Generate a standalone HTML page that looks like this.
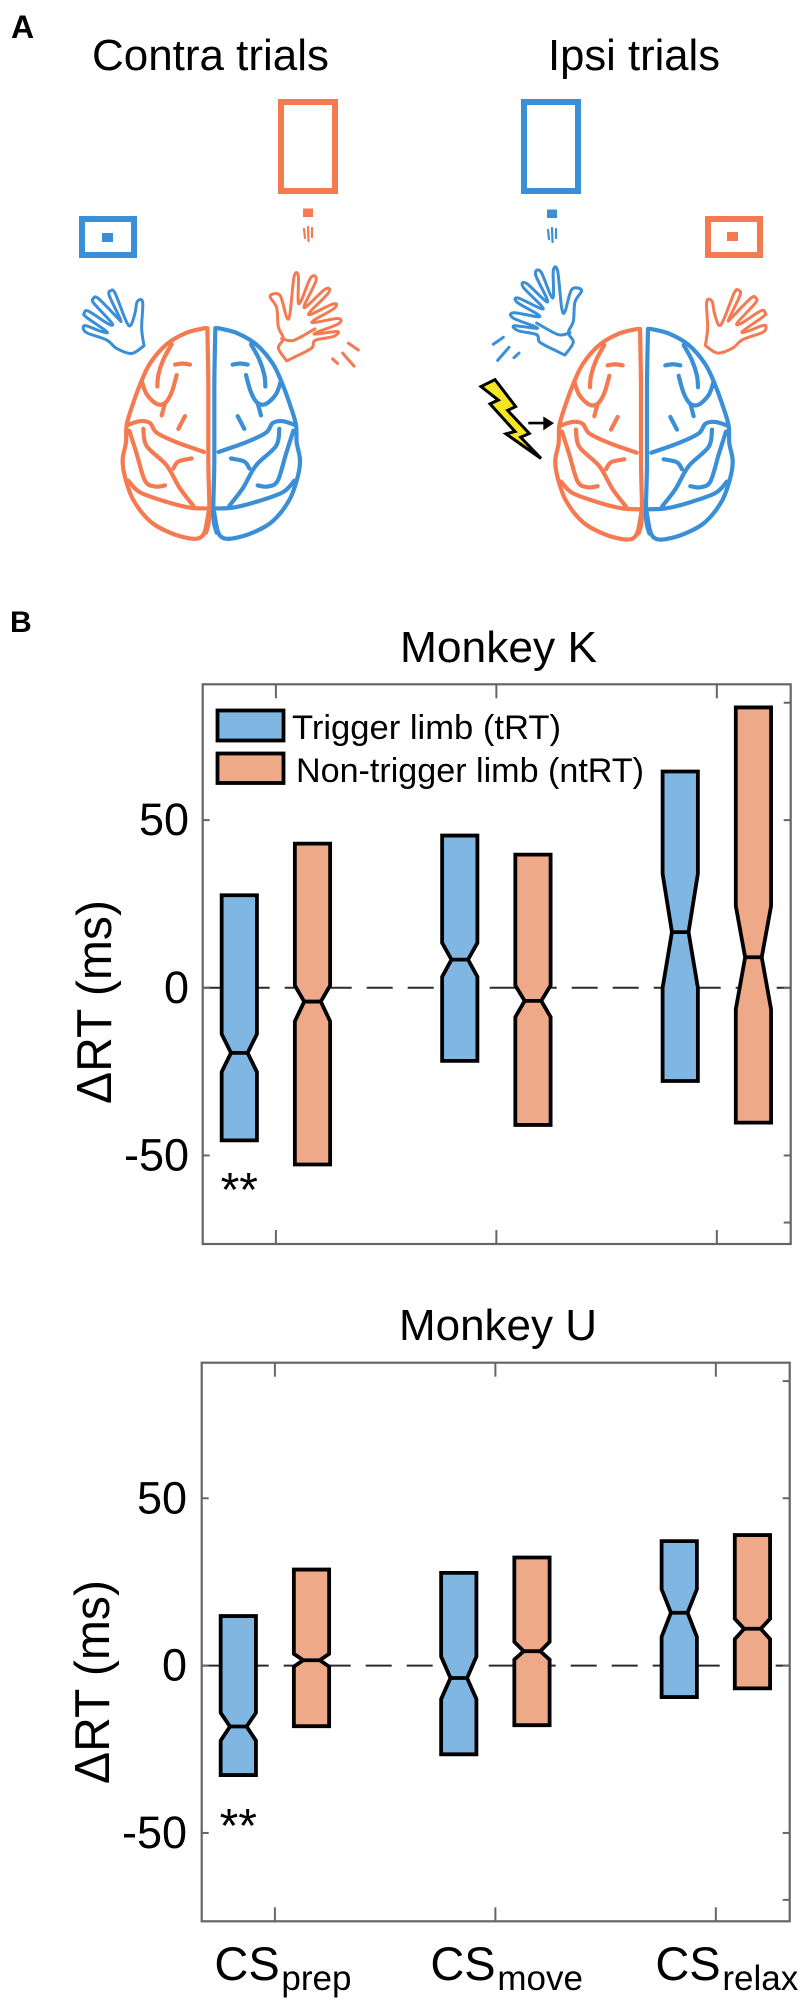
<!DOCTYPE html>
<html lang="en">
<head>
<meta charset="utf-8">
<title>Contra and ipsi trials; reaction time change by monkey</title>
<style>
  html, body { margin: 0; padding: 0; background: #fff; }
  svg { display: block; }
  text { font-family: "Liberation Sans", Arial, sans-serif; fill: #000; }
  .ink { fill: none; stroke-linejoin: round; stroke-linecap: round; vector-effect: non-scaling-stroke; }
</style>
</head>
<body>
<svg id="figure" xmlns="http://www.w3.org/2000/svg" width="800" height="2001" viewBox="0 0 800 2001">
  <defs>
    <g id="hemisphere">
      <path class="ink" d="M615 853 560 865 500 895 450 945 420 1000 395 1060 380 1105 378 1150 368 1195 375 1240 400 1300 450 1355 510 1385 570 1400 600 1398 615 1380 626 1330"/>
      <path class="ink" d="M622 853 625 1000 625 1200 628 1340 618 1385"/>
      <path class="ink" d="M515 895 490 935 475 975 472 1005"/>
      <path class="ink" d="M525 948 548 945 570 948"/>
      <path class="ink" d="M425 990 440 1025 470 1050 495 1048 515 1020 530 975"/>
      <path class="ink" d="M495 1048 485 1080"/>
      <path class="ink" d="M555 1082 535 1115"/>
      <path class="ink" d="M382 1105 420 1095 450 1100 470 1125 530 1150 612 1175"/>
      <path class="ink" d="M430 1115 440 1160 500 1210 540 1270 580 1315"/>
      <path class="ink" d="M388 1120 410 1180 435 1250 465 1265 495 1262"/>
      <path class="ink" d="M520 1218 535 1200 575 1192"/>
      <path class="ink" d="M385 1250 420 1280 500 1305 570 1320 625 1322"/>
    </g>
    <g id="brain">
      <use href="#hemisphere" stroke="#f47a52" stroke-width="4.2"/>
      <use href="#hemisphere" transform="translate(1268,0) scale(-1,1)" stroke="#3a8fd6" stroke-width="4.2"/>
    </g>
    <path id="hand-still" class="ink" d="M432 905 425 860 428 792 412 790 405 820 392 852 378 840 345 768 332 762 328 775 362 838 350 830 295 782 280 782 282 795 335 845 325 848 265 815 253 820 258 830 320 868 305 868 258 853 250 860 262 872 320 890 350 912 395 925 432 905"/>
    <g id="hand-moving">
      <path class="ink" d="M860 938 835 905 850 880 835 850 830 800 810 770 840 768 860 825 870 815 882 720 895 718 897 790 932 722 948 730 912 800 975 752 985 762 925 818 1000 790 1002 802 935 838 1013 828 1015 842 942 868 1012 862 1000 875 945 885 935 905 880 930 860 938"/>
      <path class="ink" d="M845 880 880 885 945 855"/>
      <path class="ink" d="M1045 892 1075 910"/>
      <path class="ink" d="M1028 918 1062 952"/>
      <path class="ink" d="M998 933 1013 945"/>
    </g>
    <g id="jitter-lines">
      <rect x="303" y="208.5" width="10" height="8.5" stroke="none"/>
      <path d="M304 229 305 238M308 227 308.5 241M312 228 312 237" fill="none" stroke-width="2.2" stroke-linecap="round"/>
    </g>
  </defs>

  <g id="panel-a">
    <text x="11" y="38" font-size="32" font-weight="bold">A</text>
    <text x="92" y="70" font-size="44" textLength="237" lengthAdjust="spacingAndGlyphs">Contra trials</text>
    <text x="548" y="70" font-size="44" textLength="172" lengthAdjust="spacingAndGlyphs">Ipsi trials</text>

    <rect x="281" y="102" width="54" height="89" fill="none" stroke="#f47a52" stroke-width="6"/>
    <rect x="82" y="219" width="52" height="36" fill="none" stroke="#3a8fd6" stroke-width="6"/>
    <rect x="102" y="233" width="11" height="9" fill="#3a8fd6"/>
    <use href="#jitter-lines" fill="#f47a52" stroke="#f47a52"/>

    <rect x="524" y="102" width="54" height="89" fill="none" stroke="#3a8fd6" stroke-width="6"/>
    <rect x="708" y="219" width="52" height="36" fill="none" stroke="#f47a52" stroke-width="6"/>
    <rect x="727" y="232" width="11" height="9" fill="#f47a52"/>
    <use href="#jitter-lines" transform="translate(244,1)" fill="#3a8fd6" stroke="#3a8fd6"/>

    <g transform="scale(0.33333,0.38462)">
      <use href="#brain"/>
      <use href="#brain" transform="translate(1298,2)"/>
      <use href="#hand-still" transform="translate(0,-6)" stroke="#3a8fd6" stroke-width="3"/>
      <use href="#hand-moving" stroke="#f47a52" stroke-width="3"/>
      <use href="#hand-moving" transform="translate(2555,-15) scale(-1,1)" stroke="#3a8fd6" stroke-width="3"/>
      <use href="#hand-still" transform="translate(2548,-7) scale(-1,1)" stroke="#f47a52" stroke-width="3"/>
      <polygon points="1443,1005 1485,987 1547,1057 1523,1067 1588,1127 1562,1137 1623,1192 1518,1128 1545,1122 1470,1050 1495,1040" fill="#f5e625" stroke="#000" stroke-width="3" vector-effect="non-scaling-stroke" stroke-linejoin="miter"/>
      <path d="M1585 1100H1635" stroke="#000" stroke-width="2.6" vector-effect="non-scaling-stroke" fill="none"/>
      <polygon points="1630,1083 1662,1100 1630,1119" fill="#000"/>
    </g>
  </g>

  <text x="10" y="632" font-size="30" font-weight="bold">B</text>

  <g id="chart-k">
    <text x="400" y="662" font-size="44" textLength="197" lengthAdjust="spacingAndGlyphs">Monkey K</text>
  </g>
  <g id="chart-u">
    <text x="399" y="1340" font-size="44" textLength="198" lengthAdjust="spacingAndGlyphs">Monkey U</text>
  </g>

  <g id="legend">
    <rect x="217.5" y="710.5" width="66" height="30" fill="#7fb7e2" stroke="#000" stroke-width="3.8"/>
    <text x="292" y="739" font-size="34" textLength="269" lengthAdjust="spacingAndGlyphs">Trigger limb (tRT)</text>
    <rect x="217.5" y="753.5" width="66" height="29.5" fill="#eda988" stroke="#000" stroke-width="3.8"/>
    <text x="296" y="782" font-size="34" textLength="348" lengthAdjust="spacingAndGlyphs">Non-trigger limb (ntRT)</text>
  </g>
</svg>

<script>
// Shared axis data
const categories = ['prep', 'move', 'relax'];
const yMajorTicks = [50, 0, -50];
const yMajorLabels = ['50', '0', '-50'];
const yMinorRightTicks = [85, -70];
const yDomain = [-76.4, 90.5];
const xDomain = [0.668, 3.335];

// Monkey K, trigger limb (tRT)
const kTriggerTop = [27.6, 45.4, 64.5];
const kTriggerNotchHigh = [-13.8, 13.4, 34];
const kTriggerMedian = [-19.4, 8.4, 16.6];
const kTriggerNotchLow = [-25.1, 3.3, 0];
const kTriggerBottom = [-45.5, -21.8, -27.8];
// Monkey K, non-trigger limb (ntRT)
const kOtherTop = [43, 39.7, 83.6];
const kOtherNotchHigh = [0.7, 0.7, 24.4];
const kOtherMedian = [-4.1, -3.9, 9.1];
const kOtherNotchLow = [-10, -8.7, -6.4];
const kOtherBottom = [-52.7, -40.9, -40.2];

// Monkey U, trigger limb (tRT)
const uTriggerTop = [14.8, 27.7, 37.2];
const uTriggerNotchHigh = [-14.1, 2.7, 22.8];
const uTriggerMedian = [-18.2, -3.7, 15.8];
const uTriggerNotchLow = [-22.4, -10, 8.6];
const uTriggerBottom = [-32.7, -26.5, -9.4];
// Monkey U, non-trigger limb (ntRT)
const uOtherTop = [28.7, 32.3, 39];
const uOtherNotchHigh = [3.5, 7.1, 14];
const uOtherMedian = [1.6, 4.3, 11];
const uOtherNotchLow = [-0.3, 1.8, 7.9];
const uOtherBottom = [-18.1, -17.8, -6.8];

const NS = 'http://www.w3.org/2000/svg';
const BLUE = '#7fb7e2';
const ORANGE = '#eda988';
const AXIS = '#666666';
const GROUP_OFFSET = 0.166;
const BOX_HALF = 0.08;
const NOTCH_RATIO = 0.47;

// Round the hand-traced illustration outlines into smooth curves
document.querySelectorAll('defs path.ink').forEach(function (path) {
  const nums = path.getAttribute('d').replace('M', '').trim().split(/\s+/).map(Number);
  const pts = [];
  for (let i = 0; i + 1 < nums.length; i += 2) pts.push([nums[i], nums[i + 1]]);
  if (pts.length < 3) return;
  let d = 'M' + pts[0][0] + ' ' + pts[0][1];
  for (let i = 0; i < pts.length - 1; i++) {
    const p0 = pts[Math.max(i - 1, 0)];
    const p1 = pts[i];
    const p2 = pts[i + 1];
    const p3 = pts[Math.min(i + 2, pts.length - 1)];
    d += 'C' + (p1[0] + (p2[0] - p0[0]) / 6) + ' ' + (p1[1] + (p2[1] - p0[1]) / 6) + ' ' +
      (p2[0] - (p3[0] - p1[0]) / 6) + ' ' + (p2[1] - (p3[1] - p1[1]) / 6) + ' ' + p2[0] + ' ' + p2[1];
  }
  path.setAttribute('d', d);
});

function makeScales(left, right, top, bottom) {
  return {
    x: function (v) { return left + (v - xDomain[0]) / (xDomain[1] - xDomain[0]) * (right - left); },
    y: function (v) { return bottom - (v - yDomain[0]) / (yDomain[1] - yDomain[0]) * (bottom - top); }
  };
}

function addLine(parent, x1, y1, x2, y2, color, width) {
  const el = document.createElementNS(NS, 'line');
  el.setAttribute('x1', x1);
  el.setAttribute('y1', y1);
  el.setAttribute('x2', x2);
  el.setAttribute('y2', y2);
  el.setAttribute('stroke', color);
  el.setAttribute('stroke-width', width);
  parent.appendChild(el);
  return el;
}

function addText(parent, x, y, size, content, anchor) {
  const el = document.createElementNS(NS, 'text');
  el.setAttribute('x', x);
  el.setAttribute('y', y);
  el.setAttribute('font-size', size);
  if (anchor) el.setAttribute('text-anchor', anchor);
  el.textContent = content;
  parent.appendChild(el);
  return el;
}

function drawBox(parent, sc, center, top, high, med, low, bottom, fill, name) {
  const xl = sc.x(center - BOX_HALF);
  const xr = sc.x(center + BOX_HALF);
  const nl = sc.x(center - BOX_HALF * NOTCH_RATIO);
  const nr = sc.x(center + BOX_HALF * NOTCH_RATIO);
  const g = document.createElementNS(NS, 'g');
  
  
  const body = document.createElementNS(NS, 'path');
  body.setAttribute('d', 'M' + xl + ' ' + sc.y(top) + 'L' + xr + ' ' + sc.y(top) +
    'L' + xr + ' ' + sc.y(high) + 'L' + nr + ' ' + sc.y(med) + 'L' + xr + ' ' + sc.y(low) +
    'L' + xr + ' ' + sc.y(bottom) + 'L' + xl + ' ' + sc.y(bottom) + 'L' + xl + ' ' + sc.y(low) +
    'L' + nl + ' ' + sc.y(med) + 'L' + xl + ' ' + sc.y(high) + 'Z');
  body.setAttribute('fill', fill);
  body.setAttribute('stroke', '#000');
  body.setAttribute('stroke-width', '3.8');
  body.setAttribute('stroke-linejoin', 'miter');
  
  
  g.appendChild(body);
  const median = addLine(g, nl, sc.y(med), nr, sc.y(med), '#000', 3.8);
  
  
  parent.appendChild(g);
}

function drawChart(parent, prefix, left, right, top, bottom, labelBaseX, labelCenterY, labelLen, labelRightX, trig, other) {
  const sc = makeScales(left, right, top, bottom);

  // Zero reference line sits beneath the boxes
  const zero = addLine(parent, left, sc.y(0), right, sc.y(0), '#2b2b2b', 2);
  zero.setAttribute('stroke-dasharray', '26 15');
  
  

  categories.forEach(function (cat, i) {
    const c = i + 1;
    drawBox(parent, sc, c - GROUP_OFFSET, trig[0][i], trig[1][i], trig[2][i], trig[3][i], trig[4][i], BLUE, prefix + '-trigger-box-' + cat);
    drawBox(parent, sc, c + GROUP_OFFSET, other[0][i], other[1][i], other[2][i], other[3][i], other[4][i], ORANGE, prefix + '-non-trigger-box-' + cat);

    const tickTop = addLine(parent, sc.x(c), top, sc.x(c), top + 14, AXIS, 2);
    
    
    const tickBottom = addLine(parent, sc.x(c), bottom, sc.x(c), bottom - 14, AXIS, 2);
    
    
  });

  // Plot frame
  const frame = document.createElementNS(NS, 'rect');
  frame.setAttribute('x', left);
  frame.setAttribute('y', top);
  frame.setAttribute('width', right - left);
  frame.setAttribute('height', bottom - top);
  frame.setAttribute('fill', 'none');
  frame.setAttribute('stroke', AXIS);
  frame.setAttribute('stroke-width', '2.2');
  
  
  parent.appendChild(frame);

  yMajorTicks.forEach(function (v, i) {
    const l = addLine(parent, left, sc.y(v), left + 7, sc.y(v), AXIS, 2);
    
    
    const r = addLine(parent, right, sc.y(v), right - 7, sc.y(v), AXIS, 2);
    
    
    const t = addText(parent, labelRightX, sc.y(v) + 15, 45, yMajorLabels[i], 'end');
    
    
  });

  yMinorRightTicks.forEach(function (v) {
    const r = addLine(parent, right, sc.y(v), right - 7, sc.y(v), AXIS, 2);
    
    
  });

  const yTitle = addText(parent, 0, 0, 49, '\u0394RT (ms)', 'middle');
  yTitle.setAttribute('transform', 'translate(' + labelBaseX + ',' + labelCenterY + ') rotate(-90)');
  yTitle.setAttribute('textLength', labelLen);
  yTitle.setAttribute('lengthAdjust', 'spacingAndGlyphs');
  
  

  return sc;
}

const chartK = document.getElementById('chart-k');
const chartU = document.getElementById('chart-u');

const scK = drawChart(chartK, 'monkey-k', 202.7, 790.7, 684.3, 1244, 111, 1002, 204, 189,
  [kTriggerTop, kTriggerNotchHigh, kTriggerMedian, kTriggerNotchLow, kTriggerBottom],
  [kOtherTop, kOtherNotchHigh, kOtherMedian, kOtherNotchLow, kOtherBottom]);

const scU = drawChart(chartU, 'monkey-u', 201.7, 789.7, 1362.7, 1921.3, 109, 1682, 204, 187,
  [uTriggerTop, uTriggerNotchHigh, uTriggerMedian, uTriggerNotchLow, uTriggerBottom],
  [uOtherTop, uOtherNotchHigh, uOtherMedian, uOtherNotchLow, uOtherBottom]);

const starsK = addText(chartK, scK.x(1 - GROUP_OFFSET), 1206, 48, '**', 'middle');



const starsU = addText(chartU, scU.x(1 - GROUP_OFFSET), 1842, 48, '**', 'middle');



// Category labels below the Monkey U axis
categories.forEach(function (cat, i) {
  const center = scU.x(i + 1);
  const offsetCS = i === 1 ? -65 : -60.5;
  const main = addText(chartU, center + offsetCS, 1980, 47, 'CS');
  
  
  const sub = addText(chartU, center + offsetCS + 67, 1990, 35, cat);
  
  
});
</script>
</body>
</html>
